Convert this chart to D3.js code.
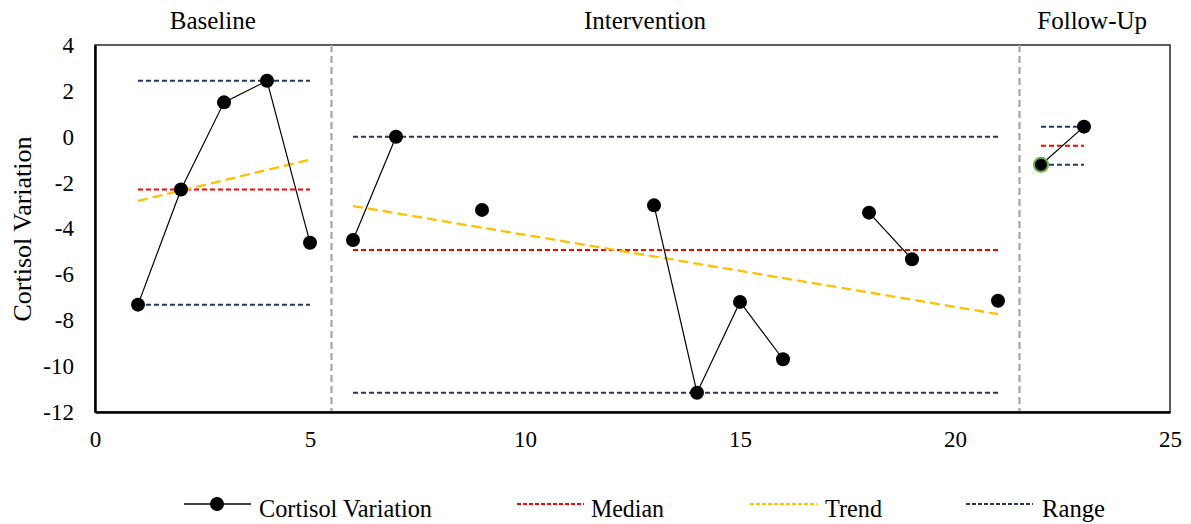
<!DOCTYPE html>
<html>
<head>
<meta charset="utf-8">
<script src="https://cdn.jsdelivr.net/npm/d3@7/dist/d3.min.js"></script>
<style>
  html, body { margin: 0; padding: 0; background: #fff; }
  svg { display: block; font-family: "Liberation Serif", "Times New Roman", serif; }
</style>
</head>
<body>
<svg id="chart" width="1191" height="524"></svg>
<script>
// ---- data ----
const sessions = [1,2,3,4,5,6,7,8,9,10,11,12,13,14,15,16,17,18,19,20,21,22,23];
const cortisol = [-7.32,-2.3,1.5,2.44,-4.62,-4.5,0,null,-3.19,null,null,null,-2.99,-11.16,-7.2,-9.7,null,-3.31,-5.34,null,-7.15,-1.22,0.44];
const phaseNames = ["Baseline","Intervention","Follow-Up"];
const phaseStart = [1, 6, 22];
const phaseEnd = [5, 21, 23];
const phaseMedian = [-2.3, -4.94, -0.39];
const rangeHigh = [2.44, 0, 0.44];
const rangeLow = [-7.32, -11.16, -1.22];
const trendStart = [-2.8, -3.02, null];
const trendEnd = [-1.0, -7.73, null];
const phaseChanges = [5.5, 21.5];
const xTicks = [0,5,10,15,20,25];
const yTicks = [-12,-10,-8,-6,-4,-2,0,2,4];
const legendLabels = ["Cortisol Variation","Median","Trend","Range"];

(function(){
// ---- layout ----
const svg = d3.select("#chart");
const pL = 95, pR = 1170, pT = 45, pB = 412;
const x = d3.scaleLinear().domain([0,25]).range([pL,pR]);
const y = d3.scaleLinear().domain([-12,4]).range([pB,pT]);
const fmt = d => (d < 0 ? "-" : "") + Math.abs(d);

const colors = { median: "#FF0000", trend: "#FFC000", range: "#1F3864", phase: "#A6A6A6", line: "#000" };

// border box (top/right)
svg.append("rect").attr("x", pL).attr("y", pT).attr("width", pR-pL).attr("height", pB-pT)
  .attr("fill","none").attr("stroke","#262626").attr("stroke-width",1.5);

// phase change lines
svg.selectAll(".phase").data(phaseChanges).join("line")
  .attr("x1", d=>x(d)).attr("x2", d=>x(d)).attr("y1", pT).attr("y2", pB)
  .attr("stroke", colors.phase).attr("stroke-width", 2.2).attr("stroke-dasharray","7,4");

// range, median, trend lines
phaseNames.forEach((p,i)=>{
  [rangeHigh[i], rangeLow[i]].forEach(v=>{
    svg.append("line").attr("x1", x(phaseStart[i])).attr("x2", x(phaseEnd[i]))
      .attr("y1", y(v)).attr("y2", y(v))
      .attr("stroke", colors.range).attr("stroke-width", 2).attr("stroke-dasharray","5,3");
  });
  svg.append("line").attr("x1", x(phaseStart[i])).attr("x2", x(phaseEnd[i]))
    .attr("y1", y(phaseMedian[i])).attr("y2", y(phaseMedian[i]))
    .attr("stroke", colors.median).attr("stroke-width", 2).attr("stroke-dasharray","5,3");
  if (trendStart[i] !== null) {
    svg.append("line").attr("x1", x(phaseStart[i])).attr("x2", x(phaseEnd[i]))
      .attr("y1", y(trendStart[i])).attr("y2", y(trendEnd[i]))
      .attr("stroke", colors.trend).attr("stroke-width", 2.3).attr("stroke-dasharray","10,5");
  }
});

// data line per phase
const pts = sessions.map((s,i)=>({x:s, y:cortisol[i]}));
const line = d3.line().defined(d=>d.y!==null).x(d=>x(d.x)).y(d=>y(d.y));
phaseNames.forEach((p,i)=>{
  const seg = pts.filter(d=>d.x>=phaseStart[i] && d.x<=phaseEnd[i]);
  svg.append("path").attr("d", line(seg)).attr("fill","none")
    .attr("stroke", colors.line).attr("stroke-width", 1.2);
});
svg.selectAll(".pt").data(pts.filter(d=>d.y!==null)).join("circle")
  .attr("cx", d=>x(d.x)).attr("cy", d=>y(d.y)).attr("r", 7)
  .attr("fill","#000")
  .attr("stroke", d=>d.x===22 ? "#70AD47" : "none").attr("stroke-width", 2);

// axes
const yAxis = svg.append("g").attr("transform",`translate(${pL},0)`)
  .call(d3.axisLeft(y).tickValues(yTicks).tickSize(0).tickPadding(21).tickFormat(fmt));
yAxis.attr("font-family", null);
yAxis.select(".domain").attr("stroke","#000").attr("stroke-width",2.5);
yAxis.selectAll("text").attr("font-size", 23).attr("font-family","Liberation Serif").attr("fill","#000");

const xAxis = svg.append("g").attr("transform",`translate(0,${pB})`)
  .call(d3.axisBottom(x).tickValues(xTicks).tickSize(0).tickPadding(19).tickFormat(fmt));
xAxis.attr("font-family", null);
xAxis.select(".domain").attr("stroke","#000").attr("stroke-width",2.5);
xAxis.selectAll("text").attr("font-size", 23).attr("font-family","Liberation Serif").attr("fill","#000");

// y axis title
svg.append("text").attr("transform","translate(31,229) rotate(-90)")
  .attr("text-anchor","middle").attr("font-size",26).attr("fill","#000").text("Cortisol Variation");

// phase labels
const phaseLabelX = [2.74, 12.79, 23.19];
phaseNames.forEach((p,i)=>{
  svg.append("text").attr("x", x(phaseLabelX[i])).attr("y", 29)
    .attr("text-anchor","middle").attr("font-size",25).attr("fill","#000").text(p);
});

// legend
const legY = 504;
const legItems = [
  {lx:184, tx:259, w:173, type:"series"},
  {lx:517, tx:591, w:73, type:"median"},
  {lx:750, tx:825, w:57, type:"trend"},
  {lx:966, tx:1042, w:63, type:"range"}
];
legItems.forEach((it,i)=>{
  const g = svg.append("g");
  if (it.type==="series") {
    g.append("line").attr("x1",it.lx).attr("x2",it.lx+67).attr("y1",legY).attr("y2",legY)
      .attr("stroke","#000").attr("stroke-width",1.3);
    g.append("circle").attr("cx",it.lx+33).attr("cy",legY).attr("r",7).attr("fill","#000");
  } else {
    g.append("line").attr("x1",it.lx).attr("x2",it.lx+67).attr("y1",legY).attr("y2",legY)
      .attr("stroke", colors[it.type]).attr("stroke-width",2).attr("stroke-dasharray","4,2");
  }
  g.append("text").attr("x",it.tx).attr("y",legY+13).attr("font-size",26)
    .attr("textLength", it.w).attr("lengthAdjust","spacingAndGlyphs")
    .attr("fill","#000").text(legendLabels[i]);
});
})();
</script>
</body>
</html>
